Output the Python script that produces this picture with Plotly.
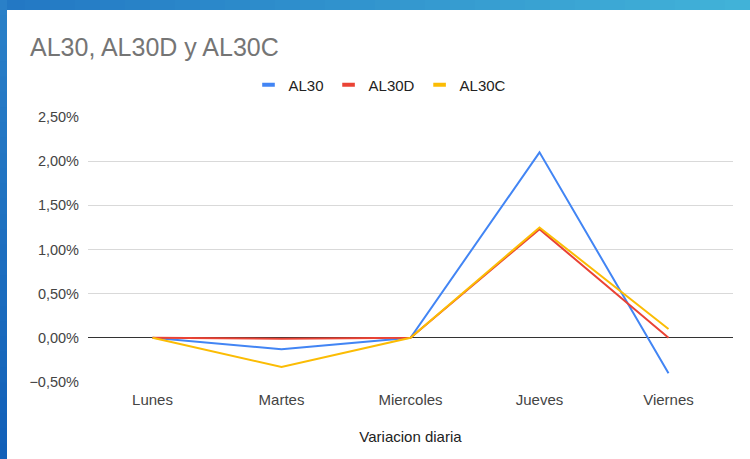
import plotly.graph_objects as go

# ---- data ----
days = ["Lunes", "Martes", "Miercoles", "Jueves", "Viernes"]
al30 = [0.0, -0.0013, 0.0, 0.0210, -0.0040]
al30d = [0.0, -0.0001, 0.0, 0.0123, 0.0]
al30c = [0.0, -0.0033, 0.0, 0.0125, 0.0010]
series_names = ["AL30", "AL30D", "AL30C"]
series_colors = ["#4285f4", "#ea4335", "#fbbc04"]
y_ticks = [-0.005, 0.0, 0.005, 0.01, 0.015, 0.02, 0.025]

W, H = 750, 459
L, R, T, B = 88, 733, 117, 382  # plot area in px


def px(x):
    return (x - L) / (R - L)


def py(y):
    return (B - y) / (B - T)


fig = go.Figure()
for name, vals, col in zip(series_names, [al30, al30d, al30c], series_colors):
    fig.add_trace(go.Scatter(x=days, y=vals, mode="lines", name=name,
                             line=dict(color=col, width=2),
                             showlegend=False, hoverinfo="skip"))
for name, col in zip(series_names, series_colors):
    fig.add_trace(go.Scatter(x=[None], y=[None], mode="markers", name=name,
                             marker=dict(symbol="line-ew-open", size=9, color=col,
                                         line=dict(width=4, color=col))))

shapes = []


def lerp(c1, c2, t):
    a = [int(c1[i:i + 2], 16) for i in (1, 3, 5)]
    b = [int(c2[i:i + 2], 16) for i in (1, 3, 5)]
    return "#%02x%02x%02x" % tuple(int(round(a[k] + (b[k] - a[k]) * t)) for k in range(3))


# blue gradient backdrop
n = 30
for i in range(n):
    x0 = W * i / n
    x1 = W * (i + 1) / n + 1
    shapes.append(dict(type="rect", xref="paper", yref="paper",
                       x0=px(x0), x1=px(x1), y0=py(H), y1=py(0),
                       fillcolor=lerp("#2378c4", "#41b2d8", i / (n - 1)),
                       line=dict(width=0), layer="below"))
for i in range(n):
    y0 = H * i / n
    y1 = H * (i + 1) / n + 1
    shapes.append(dict(type="rect", xref="paper", yref="paper",
                       x0=px(0), x1=px(7), y0=py(y1), y1=py(y0),
                       fillcolor=lerp("#2a80c8", "#1260b8", i / (n - 1)),
                       line=dict(width=0), layer="below"))
# white card
shapes.append(dict(type="rect", xref="paper", yref="paper",
                   x0=px(7), x1=px(W + 2), y0=py(H + 2), y1=py(10),
                   fillcolor="white", line=dict(width=0), layer="below"))

fig.update_layout(
    width=W, height=H,
    margin=dict(l=L, r=W - R, t=T, b=H - B, autoexpand=False),
    paper_bgcolor="#2a8ccc",
    plot_bgcolor="rgba(0,0,0,0)",
    separators=",.",
    font=dict(family="Liberation Sans, Arial, sans-serif", color="#444444", size=15),
    shapes=shapes,
    title=dict(text="AL30, AL30D y AL30C", x=30 / W, xanchor="left",
               xref="container", yref="container", y=1 - 47 / H, yanchor="middle",
               font=dict(size=25, color="#757575")),
    legend=dict(orientation="h", xref="container", yref="container",
                x=380 / W, xanchor="center", y=1 - 85 / H, yanchor="middle",
                font=dict(size=15, color="#222222"), bgcolor="rgba(0,0,0,0)",
                itemwidth=30),
    xaxis=dict(range=[-0.5, 4.5], showgrid=False, zeroline=False, showline=False,
               ticks="", ticklabelstandoff=7, tickfont=dict(size=15, color="#444444"),
               title=dict(text="Variacion diaria", standoff=24,
                          font=dict(size=15, color="#222222"))),
    yaxis=dict(range=[-0.005, 0.025], tickvals=y_ticks, tickformat=".2%",
               showgrid=True, gridcolor="#d9d9d9", gridwidth=1,
               zeroline=True, zerolinecolor="#333333", zerolinewidth=1,
               showline=False, ticks="", ticklabelstandoff=8,
               tickfont=dict(size=14.5, color="#444444")),
)

fig.write_html("out.html", config={"displayModeBar": False},
               post_script="document.body.style.margin='0';document.body.style.overflow='hidden';")
